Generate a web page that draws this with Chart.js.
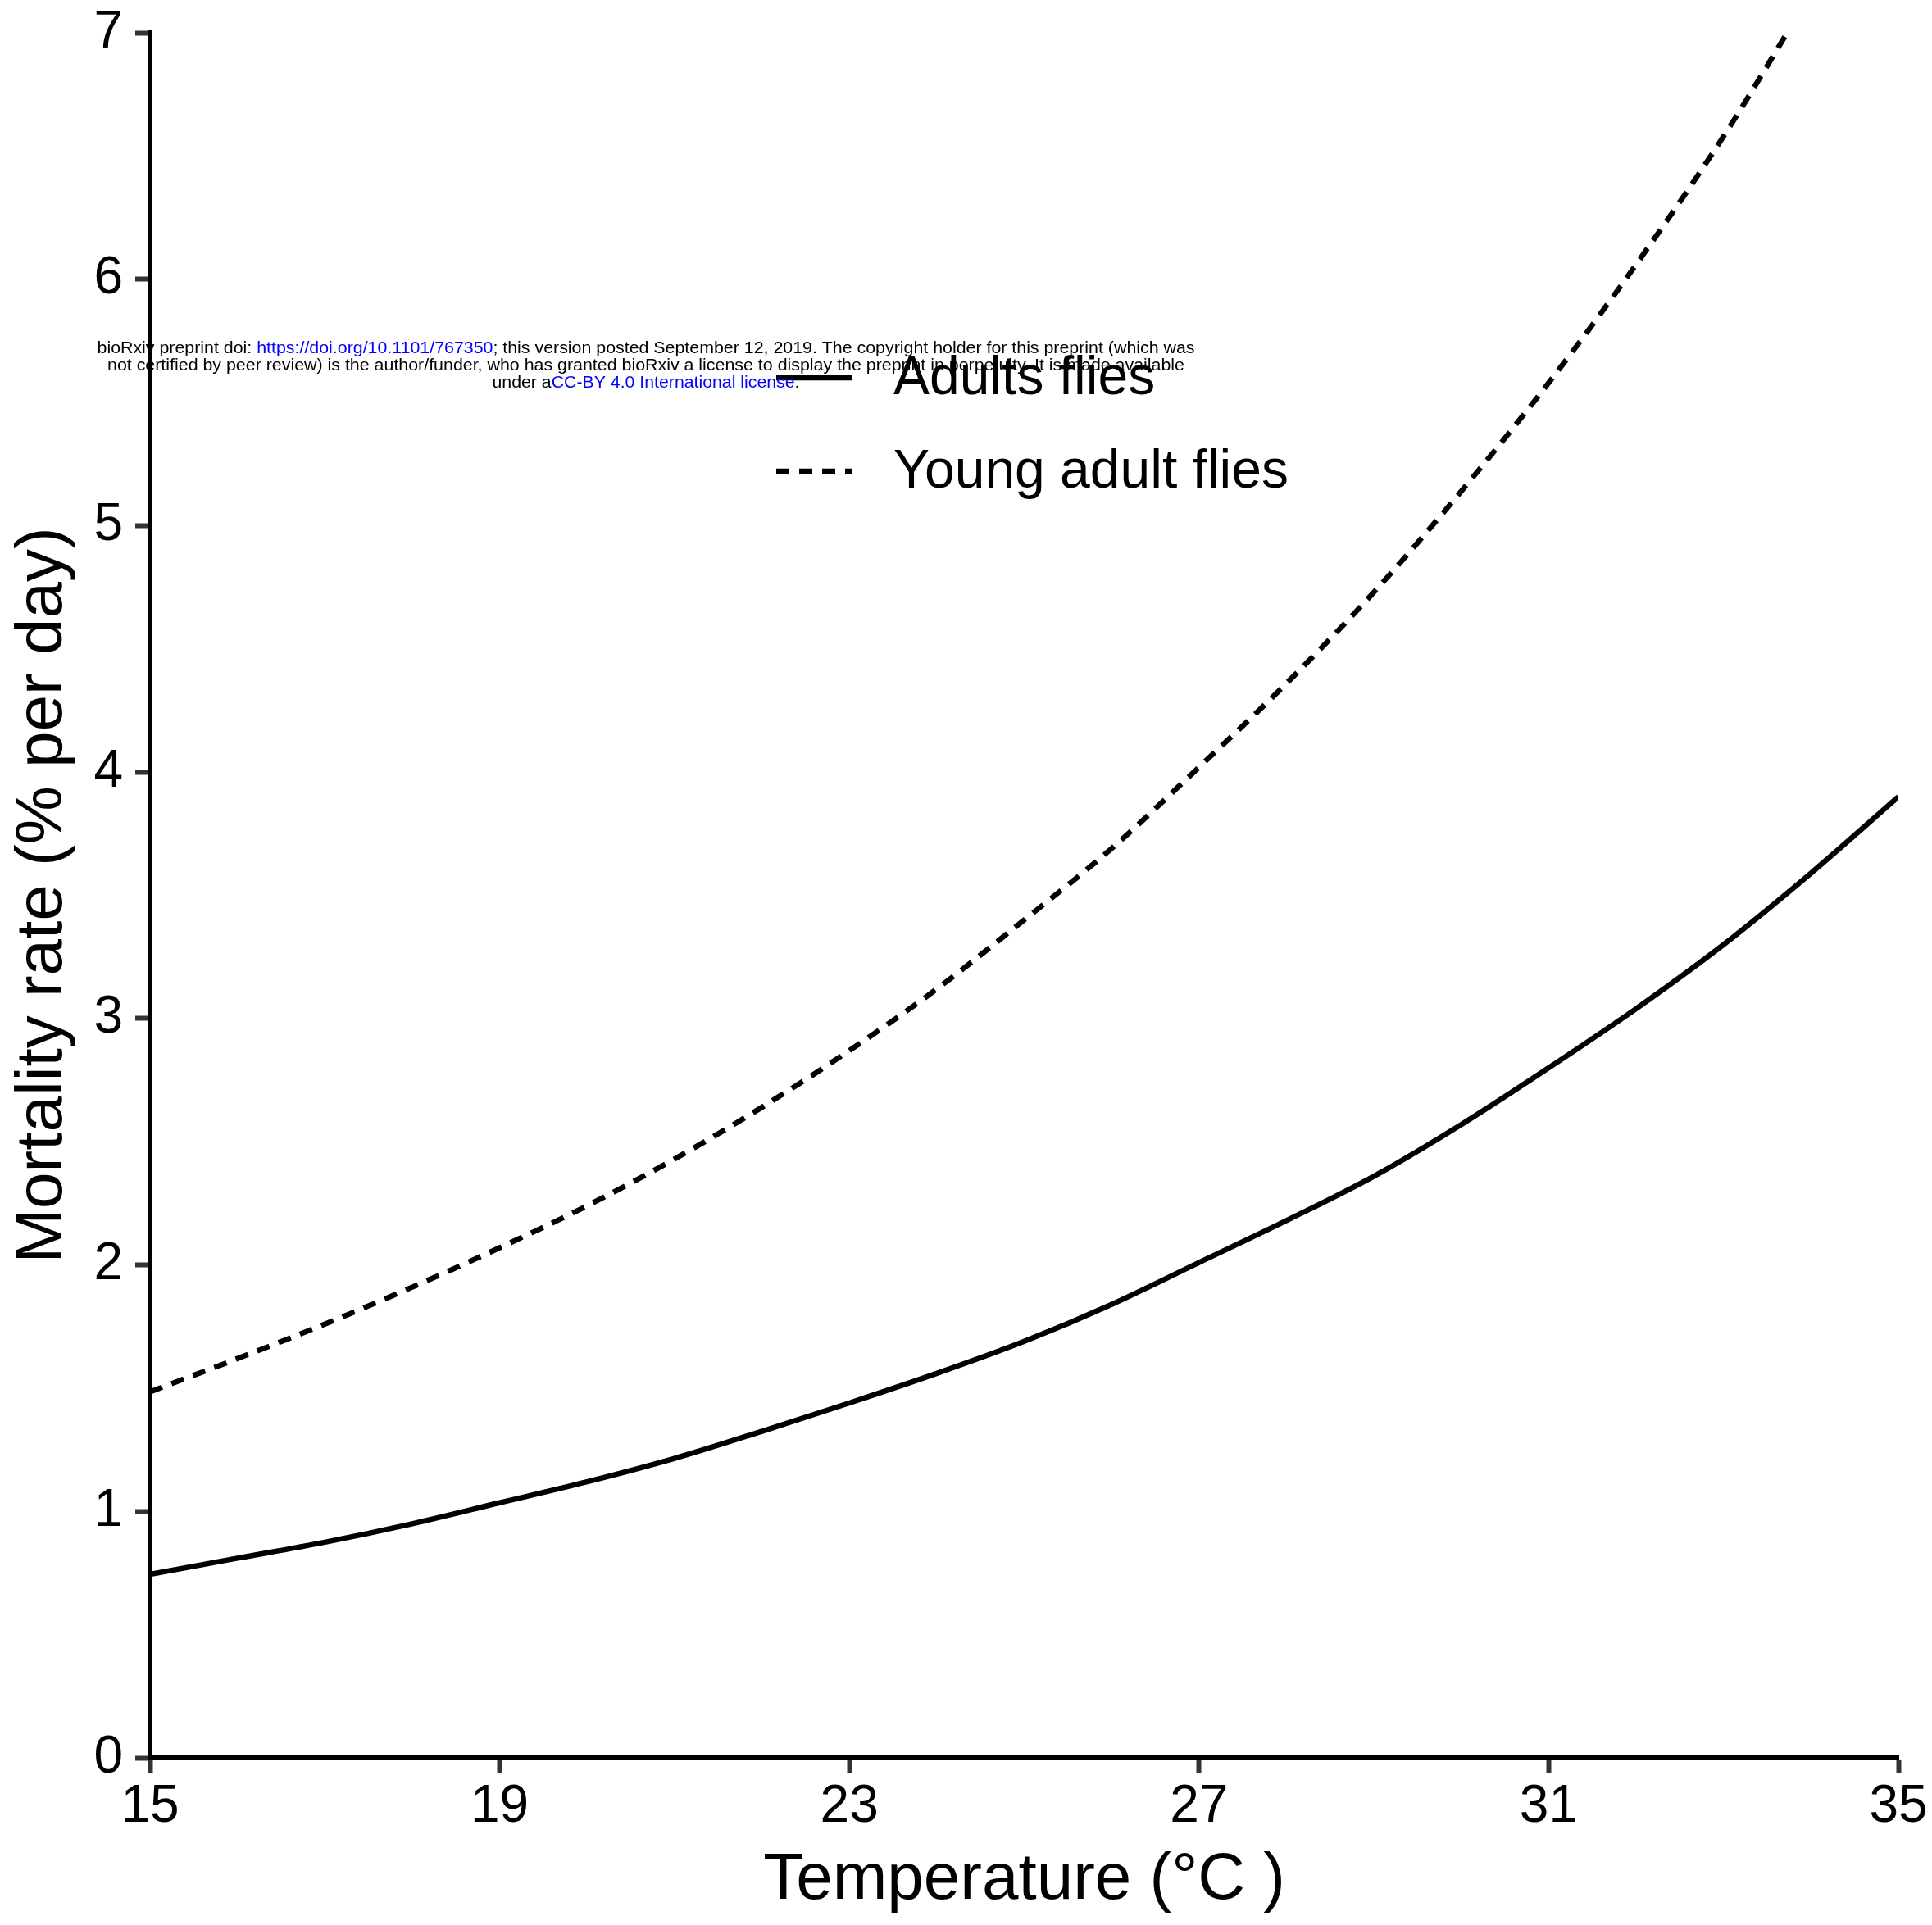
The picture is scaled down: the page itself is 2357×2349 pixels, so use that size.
<!DOCTYPE html>
<html><head><meta charset="utf-8">
<script src="https://cdn.jsdelivr.net/npm/chart.js@4/dist/chart.umd.min.js"></script>
<style>html,body{margin:0;padding:0;background:#fff;}#wrap{width:2357px;height:2349px;}</style>
</head><body><div id="wrap"><canvas id="c" width="2357" height="2349"></canvas></div>
<script>
// ---- data ----
const temperatures = [15,16,17,18,19,20,21,22,23,24,25,26,27,28,29,30,31,32,33,34,35];
const adultRates   = [0.745,0.81,0.875,0.95,1.035,1.12,1.215,1.325,1.44,1.56,1.69,1.84,2.01,2.18,2.36,2.57,2.80,3.04,3.30,3.59,3.90];
const youngTemps   = [15,16,17,18,19,20,21,22,23,24,25,26,27,28,29,30,31,32,33,34];
const youngRates   = [1.485,1.62,1.76,1.91,2.07,2.24,2.43,2.64,2.87,3.12,3.40,3.69,4.02,4.36,4.73,5.14,5.58,6.06,6.58,7.16];
const xTickValues  = [15,19,23,27,31,35];
const yTickValues  = [0,1,2,3,4,5,6,7];
const seriesLabels = ['Adults flies','Young adult flies'];
const xTitle = 'Temperature (\u00B0C )';
const yTitle = 'Mortality rate (% per day)';
const watermarkLines = [
  [['bioRxiv preprint doi: ','#000'],['https://doi.org/10.1101/767350','#0000ff'],['; this version posted September 12, 2019. The copyright holder for this preprint (which was','#000']],
  [['not certified by peer review) is the author/funder, who has granted bioRxiv a license to display the preprint in perpetuity. It is made available','#000']],
  [['under a','#000'],['CC-BY 4.0 International license','#0000ff'],['.','#000']]
];

const FONT = "'Liberation Sans', Arial, Helvetica, sans-serif";

const legendPlugin = {
  id: 'customLegend',
  afterDatasetsDraw(chart) {
    const ctx = chart.ctx;
    const rows = [461, 575];
    ctx.save();
    chart.data.datasets.forEach((ds, i) => {
      const y = rows[i];
      ctx.strokeStyle = ds.borderColor;
      ctx.lineWidth = 6.5;
      ctx.lineCap = 'butt';
      ctx.setLineDash(ds.borderDash || []);
      ctx.beginPath();
      ctx.moveTo(947, y);
      ctx.lineTo(1039, y);
      ctx.stroke();
      ctx.setLineDash([]);
      ctx.fillStyle = '#000';
      ctx.font = "66px " + FONT;
      ctx.textAlign = 'left';
      ctx.textBaseline = 'middle';
      ctx.fillText(ds.label, 1090, y + 2);
    });
    ctx.restore();
  }
};

const watermarkPlugin = {
  id: 'watermark',
  afterDraw(chart) {
    const ctx = chart.ctx;
    const ys = [425, 446, 467];
    const widths = [1339, 1314, 375];
    const cx = 788;
    ctx.save();
    ctx.font = "20px " + FONT;
    ctx.textBaseline = 'middle';
    ctx.textAlign = 'left';
    watermarkLines.forEach((segs, i) => {
      let total = 0;
      segs.forEach(s => total += ctx.measureText(s[0]).width);
      const sx = widths[i] / total;
      ctx.save();
      ctx.translate(cx - widths[i] / 2, ys[i]);
      ctx.scale(sx, 1);
      let x = 0;
      segs.forEach(s => {
        ctx.fillStyle = s[1];
        ctx.fillText(s[0], x, 0);
        x += ctx.measureText(s[0]).width;
      });
      ctx.restore();
    });
    ctx.restore();
  }
};

new Chart(document.getElementById('c'), {
  type: 'line',
  data: {
    datasets: [
      {
        label: seriesLabels[0],
        data: temperatures.map((t, i) => ({x: t, y: adultRates[i]})),
        borderColor: '#000', borderWidth: 6.5, pointRadius: 0,
        cubicInterpolationMode: 'monotone', fill: false
      },
      {
        label: seriesLabels[1],
        data: youngTemps.map((t, i) => ({x: t, y: youngRates[i]})),
        borderColor: '#000', borderWidth: 6.5, borderDash: [16, 12], pointRadius: 0,
        cubicInterpolationMode: 'monotone', fill: false
      }
    ]
  },
  options: {
    responsive: false,
    animation: false,
    devicePixelRatio: 1,
    layout: { padding: { top: 40, right: 41, left: 0, bottom: 0 } },
    plugins: { legend: { display: false }, tooltip: { enabled: false } },
    scales: {
      x: {
        type: 'linear', min: 15, max: 35,
        afterBuildTicks: s => { s.ticks = xTickValues.map(v => ({value: v})); },
        afterFit: s => { s.height = 204; s.paddingLeft = 0; s.paddingRight = 0; },
        grid: { drawOnChartArea: false, drawTicks: true, tickLength: 18, tickWidth: 6, tickColor: '#333' },
        border: { display: true, color: '#000', width: 6 },
        ticks: { color: '#000', font: { family: FONT, size: 64 }, padding: 4, maxRotation: 0 },
        title: { display: true, text: xTitle, color: '#000', font: { family: FONT, size: 80 }, padding: { top: 0, bottom: 6 } }
      },
      y: {
        type: 'linear', min: 0, max: 7,
        afterBuildTicks: s => { s.ticks = yTickValues.map(v => ({value: v})); },
        afterFit: s => { s.width = 183; s.paddingTop = 0; s.paddingBottom = 0; },
        grid: { drawOnChartArea: false, drawTicks: true, tickLength: 18, tickWidth: 6, tickColor: '#333' },
        border: { display: true, color: '#000', width: 6 },
        ticks: { color: '#000', font: { family: FONT, size: 64 }, padding: 15 },
        title: { display: true, text: yTitle, color: '#000', font: { family: FONT, size: 80 }, padding: { top: 5, bottom: 0 } }
      }
    }
  },
  plugins: [legendPlugin, watermarkPlugin]
});
</script></body></html>
